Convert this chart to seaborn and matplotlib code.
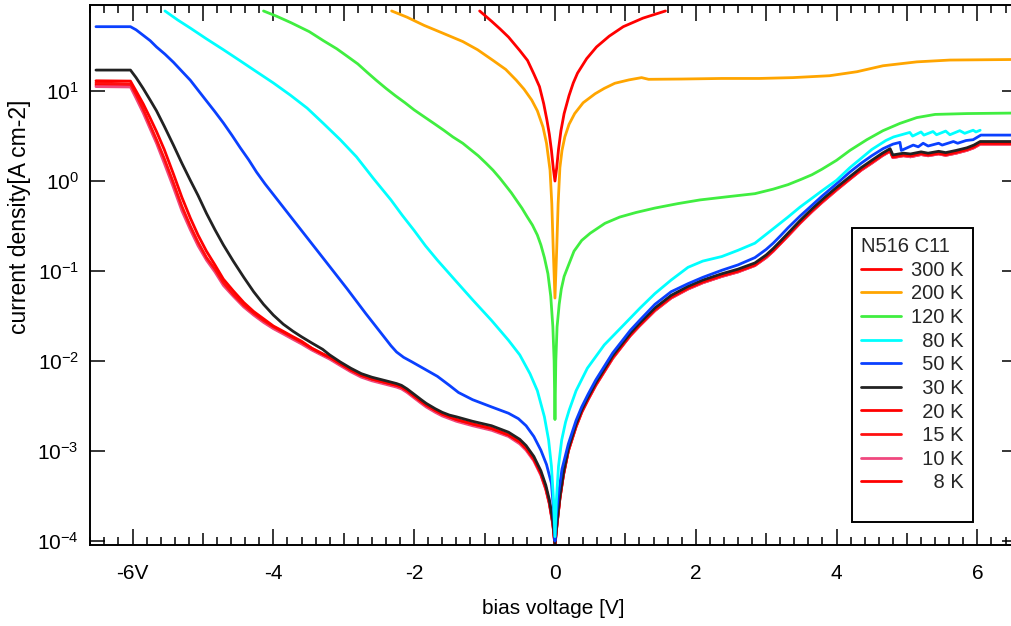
import matplotlib
matplotlib.use("Agg")
import matplotlib.pyplot as plt
import pandas as pd
import seaborn as sns
from matplotlib.ticker import FixedLocator, MultipleLocator, NullLocator, LogFormatterSciNotation
from matplotlib.lines import Line2D

# ---------------- data ----------------
v_300 = [-1.07, -0.90, -0.78, -0.66, -0.50, -0.39, -0.30, -0.22, -0.16, -0.115, -0.08, -0.05, -0.025, 0.0,
         0.025, 0.05, 0.085, 0.13, 0.20, 0.26, 0.32, 0.45, 0.59, 0.77, 0.97, 1.25, 1.57]
j_300 = [77.6, 59.6, 49.0, 39.8, 28.2, 21.9, 15.5, 11.2, 7.24, 4.79, 3.31, 2.19, 1.41, 1.0,
         1.41, 2.24, 3.63, 5.62, 8.91, 12.3, 15.8, 22.9, 30.9, 40.7, 51.9, 64.6, 77.6]

v_200 = [-2.32, -2.10, -1.86, -1.60, -1.31, -1.10, -0.88, -0.70, -0.55, -0.44, -0.33, -0.25, -0.17,
         -0.12, -0.07, -0.045, -0.025, 0.0, 0.025, 0.045, 0.07, 0.10, 0.14, 0.20, 0.28, 0.40, 0.57,
         0.70, 0.85, 1.05, 1.23, 1.33, 1.80, 2.37, 2.90, 3.38, 3.90, 4.29, 4.66, 5.14, 5.61, 6.48]
j_200 = [77.6, 66.1, 53.7, 44.2, 35.5, 28.8, 21.9, 17.4, 13.2, 10.5, 7.94, 6.03, 3.98,
         2.63, 1.32, 0.562, 0.178, 0.0501, 0.178, 0.562, 1.41, 2.19, 3.09, 4.27, 5.62, 7.41, 9.33,
         10.7, 12.2, 13.3, 14.1, 13.5, 13.6, 13.8, 13.8, 14.1, 14.8, 16.4, 19.1, 21.1, 22.1, 22.4]

v_120 = [-4.14, -3.95, -3.75, -3.49, -3.29, -3.10, -2.94, -2.80, -2.67, -2.54, -2.40, -2.27, -2.13,
         -2.00, -1.86, -1.72, -1.58, -1.45, -1.31, -1.20, -1.09, -0.98, -0.88, -0.78, -0.70, -0.62,
         -0.55, -0.47, -0.40, -0.32, -0.25, -0.20, -0.15, -0.10, -0.06, -0.03, -0.012, 0.0,
         0.012, 0.03, 0.06, 0.09, 0.13, 0.19, 0.27, 0.38, 0.50, 0.71, 0.92, 1.15, 1.42, 1.75,
         2.06, 2.50, 2.84, 3.10, 3.31, 3.50, 3.65, 3.79, 4.00, 4.19, 4.43, 4.66, 4.90, 5.14,
         5.40, 5.85, 6.48]
j_120 = [77.6, 67.6, 57.5, 45.7, 36.3, 29.5, 24.0, 20.0, 16.2, 13.2, 10.7, 8.91, 7.41,
         6.17, 5.19, 4.37, 3.67, 3.09, 2.63, 2.24, 1.91, 1.58, 1.32, 1.07, 0.891, 0.741,
         0.617, 0.501, 0.407, 0.324, 0.251, 0.195, 0.141, 0.0933, 0.0525, 0.0240, 0.0100, 2.24e-3,
         0.0100, 0.0240, 0.0427, 0.0631, 0.0871, 0.115, 0.166, 0.219, 0.263, 0.339, 0.398, 0.447,
         0.501, 0.562, 0.617, 0.676, 0.724, 0.813, 0.912, 1.047, 1.175, 1.35, 1.70, 2.19, 2.88,
         3.63, 4.37, 5.07, 5.50, 5.62, 5.69]

v_80 = [-5.54, -5.36, -5.18, -4.95, -4.71, -4.48, -4.24, -4.00, -3.76, -3.52, -3.29, -3.05, -2.82,
        -2.58, -2.33, -2.17, -2.00, -1.84, -1.67, -1.42, -1.17, -0.90, -0.66, -0.50, -0.355, -0.25,
        -0.15, -0.09, -0.05, -0.02, 0.0, 0.02, 0.05, 0.095, 0.15, 0.20, 0.30, 0.46, 0.70, 0.95,
        1.21, 1.42, 1.65, 1.89, 2.10, 2.37, 2.60, 2.84, 3.10, 3.31, 3.48, 3.79, 4.00, 4.19, 4.50,
        4.70, 4.81, 5.04, 5.08, 5.20, 5.24, 5.37, 5.42, 5.55, 5.61, 5.75, 5.82, 5.94, 5.98, 6.04]
j_80 = [77.6, 61.7, 50.1, 38.0, 28.8, 21.9, 16.4, 12.3, 9.02, 6.46, 4.37, 2.88, 1.86,
        1.07, 0.617, 0.417, 0.282, 0.191, 0.132, 0.0794, 0.0479, 0.0282, 0.0170, 0.0117, 7.24e-3,
        4.68e-3, 2.40e-3, 1.32e-3, 6.76e-4, 2.82e-4, 1.12e-4, 2.82e-4, 6.76e-4, 1.32e-3, 2.09e-3,
        2.82e-3, 4.68e-3, 8.32e-3, 0.0151, 0.0240, 0.0389, 0.0562, 0.0794, 0.110, 0.129, 0.145,
        0.170, 0.204, 0.295, 0.398, 0.513, 0.776, 1.02, 1.41, 2.24, 2.82, 3.09, 3.47, 3.16,
        3.51, 3.24, 3.55, 3.27, 3.59, 3.27, 3.63, 3.39, 3.67, 3.51, 3.67]

v_50 = [-6.52, -6.03, -5.95, -5.85, -5.75, -5.66, -5.54, -5.42, -5.30, -5.18, -5.06, -4.95, -4.83,
        -4.71, -4.59, -4.47, -4.35, -4.24, -4.12, -4.00, -3.76, -3.50, -3.25, -2.95, -2.69, -2.50,
        -2.40, -2.33, -2.25, -2.15, -2.03, -1.85, -1.67, -1.50, -1.37, -1.17, -0.90, -0.66, -0.52,
        -0.41, -0.30, -0.20, -0.12, -0.05, -0.02, 0.0, 0.02, 0.05, 0.10, 0.19, 0.30, 0.38, 0.47,
        0.58, 0.70, 0.82, 0.95, 1.07, 1.20, 1.42, 1.65, 1.89, 2.10, 2.37, 2.60, 2.84, 3.00, 3.10,
        3.20, 3.31, 3.48, 3.65, 3.79, 4.00, 4.19, 4.35, 4.50, 4.66, 4.80, 4.90, 4.92, 5.09, 5.16,
        5.23, 5.30, 5.45, 5.50, 5.66, 5.72, 5.84, 5.94, 6.05, 6.48]
j_50 = [51.9, 51.9, 47.9, 41.7, 36.3, 30.9, 25.7, 20.9, 16.6, 13.2, 10.0, 7.76, 5.89,
        4.42, 3.24, 2.34, 1.72, 1.26, 0.933, 0.708, 0.407, 0.224, 0.126, 0.0631, 0.0339, 0.0219,
        0.0174, 0.0148, 0.0126, 0.0110, 9.77e-3, 8.13e-3, 6.76e-3, 5.37e-3, 4.47e-3, 3.72e-3,
        3.09e-3, 2.63e-3, 2.29e-3, 1.91e-3, 1.45e-3, 1.02e-3, 7.08e-4, 4.37e-4, 2.24e-4, 1.00e-4,
        2.00e-4, 3.31e-4, 6.31e-4, 1.20e-3, 2.19e-3, 3.09e-3, 4.27e-3, 6.17e-3, 8.71e-3, 0.0123,
        0.0166, 0.0219, 0.0282, 0.0427, 0.0589, 0.0724, 0.0851, 0.102, 0.117, 0.141, 0.174, 0.204,
        0.245, 0.302, 0.407, 0.537, 0.676, 0.933, 1.26, 1.58, 1.91, 2.29, 2.57, 2.69, 2.19, 2.51,
        2.40, 2.63, 2.45, 2.63, 2.51, 2.75, 2.63, 2.82, 2.88, 3.24, 3.24]

# common voltage grid of the low-temperature sweeps (30 K ... 8 K)
v_low = [-6.52, -6.03, -5.95, -5.85, -5.75, -5.66, -5.55, -5.42, -5.3, -5.18, -5.07, -4.95,
         -4.83, -4.71, -4.57, -4.42, -4.28, -4.14, -4.0, -3.86, -3.72, -3.6, -3.45, -3.3, -3.2,
         -3.05, -2.9, -2.75, -2.6, -2.4, -2.25, -2.18, -2.1, -2.0, -1.9, -1.83, -1.7, -1.6, -1.5,
         -1.4, -1.17, -0.9, -0.66, -0.5, -0.41, -0.3, -0.2, -0.13, -0.08, -0.03, 0.0,
         0.03, 0.07, 0.12, 0.19, 0.3, 0.38, 0.47, 0.58, 0.7, 0.82, 0.95, 1.07, 1.2, 1.42, 1.65,
         1.89, 2.1, 2.37, 2.6, 2.84, 3.0, 3.1, 3.2, 3.31, 3.48, 3.65, 3.79, 4.0, 4.19, 4.35, 4.5,
         4.65, 4.76, 4.8, 4.95, 5.05, 5.2, 5.3, 5.45, 5.55, 5.7, 5.85, 5.95, 6.04, 6.48]

j_30 = [17.1, 17.1, 14.1, 10.7, 7.94, 6.03, 4.07, 2.51, 1.58, 1.02, 0.692, 0.437, 0.288, 0.195,
        0.129, 0.0851, 0.0589, 0.0427, 0.0324, 0.0257, 0.0214, 0.0186, 0.0158, 0.0135, 0.0117,
        9.77e-3, 8.32e-3, 7.24e-3, 6.61e-3, 6.03e-3, 5.62e-3, 5.37e-3, 4.90e-3, 4.27e-3, 3.72e-3,
        3.39e-3, 2.95e-3, 2.69e-3, 2.51e-3, 2.40e-3, 2.14e-3, 1.91e-3, 1.62e-3, 1.35e-3, 1.15e-3,
        8.71e-4, 6.03e-4, 4.17e-4, 2.88e-4, 1.66e-4, 9.33e-5,
        1.66e-4, 3.16e-4, 5.75e-4, 1.07e-3, 2.00e-3, 2.88e-3, 3.98e-3, 5.75e-3, 8.13e-3, 0.0115,
        0.0155, 0.0204, 0.0263, 0.0389, 0.0537, 0.0676, 0.0794, 0.0933, 0.105, 0.123, 0.151,
        0.178, 0.214, 0.263, 0.363, 0.490, 0.617, 0.851, 1.12, 1.41, 1.70, 2.04, 2.29, 1.95,
        2.04, 2.00, 2.11, 2.04, 2.14, 2.07, 2.19, 2.34, 2.51, 2.75, 2.75]

j_20 = [13.0, 12.9, 10.0, 7.24, 5.01, 3.55, 2.24, 1.20, 0.661, 0.389, 0.251, 0.166, 0.117,
        0.0813, 0.0603, 0.0447, 0.0355, 0.0295, 0.0245, 0.0214, 0.0186, 0.0166,
        0.0138, 0.0120, 0.0110, 9.33e-3, 7.94e-3, 6.92e-3, 6.31e-3, 5.75e-3, 5.37e-3, 5.13e-3,
        4.68e-3, 4.07e-3, 3.55e-3, 3.24e-3, 2.82e-3, 2.57e-3, 2.40e-3, 2.24e-3, 2.00e-3, 1.78e-3,
        1.51e-3, 1.26e-3, 1.07e-3, 8.13e-4, 5.62e-4, 3.89e-4, 2.69e-4, 1.58e-4, 9.12e-5,
        1.58e-4, 3.02e-4, 5.50e-4, 1.02e-3, 1.91e-3, 2.75e-3, 3.80e-3, 5.50e-3, 7.76e-3, 0.0110,
        0.0148, 0.0195, 0.0251, 0.0372, 0.0513, 0.0646, 0.0759, 0.0891, 0.100, 0.117, 0.145,
        0.170, 0.204, 0.251, 0.347, 0.468, 0.589, 0.813, 1.07, 1.35, 1.62, 1.95, 2.19, 1.86,
        1.95, 1.91, 2.02, 1.95, 2.04, 1.97, 2.09, 2.24, 2.40, 2.63, 2.63]

j_15 = [12.3, 12.0, 9.12, 6.31, 4.17, 2.88, 1.78, 0.955, 0.525, 0.316, 0.209, 0.141, 0.105,
        0.0741, 0.0550, 0.0417, 0.0339, 0.0282, 0.0240, 0.0209, 0.0182, 0.0162,
        0.0138, 0.0120, 0.0110, 9.33e-3, 7.94e-3, 6.92e-3, 6.31e-3, 5.75e-3, 5.37e-3, 5.13e-3,
        4.68e-3, 4.07e-3, 3.55e-3, 3.24e-3, 2.82e-3, 2.57e-3, 2.40e-3, 2.24e-3, 2.00e-3, 1.78e-3,
        1.51e-3, 1.26e-3, 1.07e-3, 8.13e-4, 5.62e-4, 3.89e-4, 2.69e-4, 1.58e-4, 9.12e-5,
        1.58e-4, 3.02e-4, 5.50e-4, 1.02e-3, 1.91e-3, 2.75e-3, 3.80e-3, 5.50e-3, 7.76e-3, 0.0110,
        0.0148, 0.0195, 0.0251, 0.0372, 0.0513, 0.0646, 0.0759, 0.0891, 0.100, 0.117, 0.145,
        0.170, 0.204, 0.251, 0.347, 0.468, 0.589, 0.813, 1.07, 1.35, 1.62, 1.95, 2.19, 1.86,
        1.95, 1.91, 2.02, 1.95, 2.04, 1.97, 2.09, 2.24, 2.40, 2.63, 2.63]

j_10 = [11.2, 11.1, 8.32, 5.75, 3.80, 2.63, 1.58, 0.851, 0.468, 0.288, 0.191, 0.132, 0.0977,
        0.0692, 0.0525, 0.0398, 0.0324, 0.0269, 0.0229, 0.0200, 0.0174, 0.0155,
        0.0132, 0.0115, 0.0105, 8.91e-3, 7.59e-3, 6.61e-3, 6.03e-3, 5.50e-3, 5.13e-3, 4.90e-3,
        4.47e-3, 3.89e-3, 3.39e-3, 3.09e-3, 2.69e-3, 2.45e-3, 2.29e-3, 2.14e-3, 1.91e-3, 1.70e-3,
        1.45e-3, 1.20e-3, 1.02e-3, 7.76e-4, 5.37e-4, 3.72e-4, 2.57e-4, 1.51e-4, 8.91e-5,
        1.55e-4, 2.95e-4, 5.37e-4, 1.00e-3, 1.86e-3, 2.69e-3, 3.72e-3, 5.37e-3, 7.59e-3, 0.0107,
        0.0145, 0.0191, 0.0245, 0.0363, 0.0501, 0.0631, 0.0741, 0.0871, 0.0977, 0.115, 0.141,
        0.166, 0.200, 0.245, 0.339, 0.457, 0.575, 0.794, 1.05, 1.32, 1.58, 1.91, 2.14, 1.82,
        1.91, 1.86, 1.97, 1.91, 2.00, 1.93, 2.04, 2.19, 2.34, 2.57, 2.57]

j_8 = [11.7, 11.6, 8.71, 6.03, 3.98, 2.75, 1.70, 0.912, 0.501, 0.302, 0.200, 0.138, 0.102,
       0.0724, 0.0537, 0.0407, 0.0331, 0.0275, 0.0234, 0.0204, 0.0178, 0.0158,
       0.0135, 0.0117, 0.0107, 9.12e-3, 7.76e-3, 6.76e-3, 6.17e-3, 5.62e-3, 5.25e-3, 5.01e-3,
       4.57e-3, 3.98e-3, 3.47e-3, 3.16e-3, 2.75e-3, 2.51e-3, 2.34e-3, 2.19e-3, 1.95e-3, 1.74e-3,
       1.48e-3, 1.23e-3, 1.05e-3, 7.94e-4, 5.50e-4, 3.80e-4, 2.63e-4, 1.55e-4, 8.91e-5,
       1.55e-4, 2.95e-4, 5.37e-4, 1.00e-3, 1.86e-3, 2.69e-3, 3.72e-3, 5.37e-3, 7.59e-3, 0.0107,
       0.0145, 0.0191, 0.0245, 0.0363, 0.0501, 0.0631, 0.0741, 0.0871, 0.0977, 0.115, 0.141,
       0.166, 0.200, 0.245, 0.339, 0.457, 0.575, 0.794, 1.05, 1.32, 1.58, 1.91, 2.14, 1.82,
       1.91, 1.86, 1.97, 1.91, 2.00, 1.93, 2.04, 2.19, 2.34, 2.57, 2.57]

labels = ["300 K", "200 K", "120 K", "\u200780 K", "\u200750 K", "\u200730 K",
          "\u200720 K", "\u200715 K", "\u200710 K", "\u2007\u20078 K"]
colors = ["#ff0000", "#ffa500", "#40ee40", "#00ffff", "#0a40ff", "#222222",
          "#ff0000", "#ff1010", "#f0487e", "#ff0000"]
volts = [v_300, v_200, v_120, v_80, v_50, v_low, v_low, v_low, v_low, v_low]
dens = [j_300, j_200, j_120, j_80, j_50, j_30, j_20, j_15, j_10, j_8]

x_ticks = [-6, -4, -2, 0, 2, 4, 6]
x_ticklabels = ["-6V", "-4", "-2", "0", "2", "4", "6"]
y_ticks = [1e-4, 1e-3, 1e-2, 1e-1, 1e0, 1e1]

# ---------------- style ----------------
sns.set_theme(style="white")
plt.rcParams["font.family"] = ["Liberation Sans", "DejaVu Sans"]
plt.rcParams["axes.unicode_minus"] = False
plt.rcParams["mathtext.fontset"] = "custom"
plt.rcParams["mathtext.rm"] = "Liberation Sans"
plt.rcParams["mathtext.it"] = "Liberation Sans:italic"

fig = plt.figure(figsize=(10.11, 6.26), dpi=100)
ax = fig.add_axes([0.0890, 0.1294, 0.9169, 0.8626])

handles = {}
for i in reversed(range(len(labels))):
    df = pd.DataFrame({"V": volts[i], "J": dens[i]})
    sns.lineplot(data=df, x="V", y="J", ax=ax, color=colors[i], linewidth=2.0,
                 sort=False, estimator=None, legend=False)
    handles[i] = ax.lines[-1]

ax.set_yscale("log")
ax.set_xlim(-6.605, 6.5625)
ax.set_ylim(10 ** -4.044, 10 ** 1.956)

ax.xaxis.set_major_locator(FixedLocator(x_ticks))
ax.set_xticklabels(x_ticklabels)
ax.xaxis.set_minor_locator(MultipleLocator(0.2))
ax.yaxis.set_major_locator(FixedLocator(y_ticks))
ax.yaxis.set_major_formatter(LogFormatterSciNotation())
ax.yaxis.set_minor_locator(NullLocator())
ax.xaxis.get_offset_text().set_visible(False)
ax.yaxis.get_offset_text().set_visible(False)

ax.tick_params(axis="x", which="major", direction="in", length=11.5, width=1.1,
               top=True, bottom=True, pad=14, labelsize=15, colors="black")
ax.tick_params(axis="x", which="minor", direction="in", length=5.5, width=1.1,
               top=True, bottom=True, colors="black",
               labelbottom=False, labeltop=False)
ax.tick_params(axis="y", which="major", direction="in", length=10.8, width=1.1,
               left=True, right=True, pad=8, labelsize=15, colors="black")
ax.tick_params(axis="y", which="minor", left=False, right=False,
               labelleft=False, labelright=False)

# whole-volt minor ticks are longer (medium at the bottom, full at the top)
minor_locs = ax.xaxis.get_minorticklocs()
for t, loc in zip(ax.xaxis.get_minor_ticks(len(minor_locs)), minor_locs):
    if abs(loc - round(loc)) < 1e-6:
        t.tick1line.set_markersize(8.6)
        t.tick2line.set_markersize(11.5)

for s in ax.spines.values():
    s.set_color("black")
    s.set_linewidth(1.4)

ax.set_xlabel("bias voltage [V]", fontsize=15, labelpad=11, color="black")
ax.set_ylabel("current density[A cm-2]", fontsize=16.5, color="black")
ax.yaxis.set_label_coords(-0.064, 0.607)

leg_handles = [handles[i] for i in range(len(labels))] + [Line2D([], [], color="none")]
leg_labels = labels + [" "]
leg = ax.legend(leg_handles, leg_labels, title="N516 C11", loc="upper left",
                bbox_to_anchor=(0.822, 0.587), borderaxespad=0, frameon=True,
                fancybox=False, edgecolor="black", framealpha=1, fontsize=14.5,
                title_fontsize=14.5, handlelength=2.0, handletextpad=0.5,
                labelspacing=0.23, borderpad=0.45, alignment="left")
leg.get_frame().set_linewidth(1.4)
leg.get_texts()[-1].set_fontsize(6)

fig.savefig("out.png", dpi=100)
